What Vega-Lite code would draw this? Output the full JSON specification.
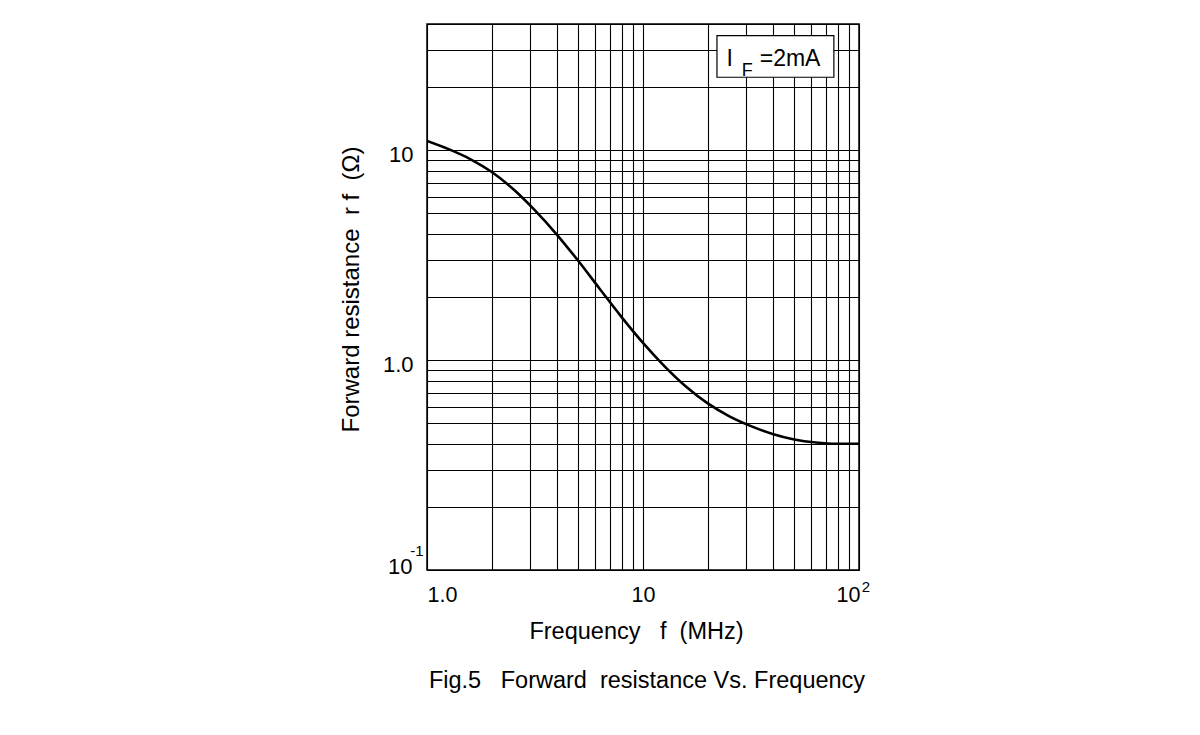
{
  "$schema": "https://vega.github.io/schema/vega-lite/v6.json",
  "width": 432,
  "height": 546,
  "autosize": {"type": "none"},
  "padding": {"left": 427, "top": 24, "right": 341, "bottom": 165},
  "background": "white",
  "config": {
    "view": {"stroke": "black", "strokeWidth": 1.5},
    "font": "Liberation Sans"
  },
  "title": {
    "text": "Fig.5\u00a0\u00a0 Forward\u00a0 resistance Vs. Frequency",
    "orient": "bottom",
    "anchor": "middle",
    "offset": 26,
    "dx": 4,
    "font": "Liberation Sans",
    "fontSize": 23.5,
    "fontWeight": "normal",
    "color": "black"
  },
  "datasets": {
    "curve": [
      {"f": 1.0, "r": 11.09},
      {"f": 1.259, "r": 10.13},
      {"f": 1.585, "r": 9.09},
      {"f": 1.995, "r": 7.88},
      {"f": 2.512, "r": 6.52},
      {"f": 3.162, "r": 5.17},
      {"f": 3.981, "r": 3.98},
      {"f": 5.012, "r": 2.975},
      {"f": 6.31, "r": 2.185},
      {"f": 7.943, "r": 1.609},
      {"f": 10, "r": 1.209},
      {"f": 12.59, "r": 0.935},
      {"f": 15.85, "r": 0.747},
      {"f": 19.95, "r": 0.622},
      {"f": 25.12, "r": 0.54},
      {"f": 31.62, "r": 0.485},
      {"f": 39.81, "r": 0.445},
      {"f": 50.12, "r": 0.419},
      {"f": 63.1, "r": 0.405},
      {"f": 79.43, "r": 0.3995},
      {"f": 100, "r": 0.4}
    ],
    "box": [
      {"f": 22, "f2": 76.5, "r": 22.3, "r2": 35.2}
    ],
    "notes": [
      {"f": 25.2, "r": 27.1, "label": "I", "kind": "main"},
      {"f": 30.4, "r": 24.0, "label": "F", "kind": "sub"},
      {"f": 34.7, "r": 27.1, "label": "=2mA", "kind": "rest"}
    ],
    "exponents": [
      {"f": 1, "r": 0.1, "label": "-1", "axis": "y"},
      {"f": 100, "r": 0.1, "label": "2", "axis": "x"}
    ]
  },
  "layer": [
    {
      "data": {"name": "curve"},
      "mark": {"type": "line", "interpolate": "monotone", "color": "black", "strokeWidth": 2.6, "clip": true},
      "encoding": {
        "x": {
          "field": "f",
          "type": "quantitative",
          "scale": {"type": "log", "domain": [1, 100], "nice": false},
          "axis": {
            "title": "Frequency\u00a0\u00a0 f\u00a0 (MHz)",
            "titleFont": "Liberation Sans",
            "titleFontSize": 23.5,
            "titleFontWeight": "normal",
            "titleColor": "black",
            "titleX": 209,
            "titleY": 68,
            "titleBaseline": "alphabetic",
            "titleAlign": "center",
            "values": [1, 2, 3, 4, 5, 6, 7, 8, 9, 10, 20, 30, 40, 50, 60, 70, 80, 90, 100],
            "labelExpr": "datum.value == 1 ? '1.0' : datum.value == 10 ? '10' : datum.value == 100 ? '10' : ''",
            "labelFont": "Liberation Sans",
            "labelFontSize": 21.5,
            "labelColor": "black",
            "labelPadding": 14,
            "labelFlush": false,
            "labelOverlap": false,
            "labelAlign": {"condition": {"test": "datum.value == 1", "value": "left"}, "value": "center"},
            "labelOffset": {"condition": {"test": "datum.value == 100", "value": -11}, "value": 0},
            "ticks": false,
            "domain": false,
            "grid": true,
            "gridColor": "black",
            "gridWidth": 1.1,
            "gridOpacity": 1
          }
        },
        "y": {
          "field": "r",
          "type": "quantitative",
          "scale": {"type": "log", "domain": [0.1, 40], "nice": false},
          "axis": {
            "title": "Forward resistance\u00a0 r f\u00a0 (Ω)",
            "titleFont": "Liberation Sans",
            "titleFontSize": 24,
            "titleFontWeight": "normal",
            "titleColor": "black",
            "titleX": -69,
            "titleY": 265,
            "titleAngle": -90,
            "titleBaseline": "alphabetic",
            "titleAlign": "center",
            "values": [0.1, 0.2, 0.3, 0.4, 0.5, 0.6, 0.7, 0.8, 0.9, 1, 2, 3, 4, 5, 6, 7, 8, 9, 10, 20, 30, 40],
            "labelExpr": "datum.value == 0.1 ? '10' : datum.value == 1 ? '1.0' : datum.value == 10 ? '10' : ''",
            "labelFont": "Liberation Sans",
            "labelFontSize": 22,
            "labelColor": "black",
            "labelPadding": {"condition": {"test": "datum.value == 0.1", "value": 15}, "value": 14},
            "labelOverlap": false,
            "labelFlush": false,
            "labelBaseline": "middle",
            "labelOffset": {"condition": {"test": "datum.value == 0.1", "value": -4}, "value": 4.5},
            "ticks": false,
            "domain": false,
            "grid": true,
            "gridColor": "black",
            "gridWidth": 1.1,
            "gridOpacity": 1
          }
        }
      }
    },
    {
      "data": {"name": "box"},
      "mark": {"type": "rect", "fill": "white", "stroke": "black", "strokeWidth": 1.2},
      "encoding": {
        "x": {"field": "f", "type": "quantitative"},
        "x2": {"field": "f2"},
        "y": {"field": "r", "type": "quantitative"},
        "y2": {"field": "r2"}
      }
    },
    {
      "data": {"name": "notes"},
      "transform": [{"filter": "datum.kind == 'main'"}],
      "mark": {"type": "text", "font": "Liberation Sans", "fontSize": 23, "color": "black", "baseline": "middle", "align": "center"},
      "encoding": {
        "x": {"field": "f", "type": "quantitative"},
        "y": {"field": "r", "type": "quantitative"},
        "text": {"field": "label"}
      }
    },
    {
      "data": {"name": "notes"},
      "transform": [{"filter": "datum.kind == 'sub'"}],
      "mark": {"type": "text", "font": "Liberation Sans", "fontSize": 18, "color": "black", "baseline": "middle", "align": "center"},
      "encoding": {
        "x": {"field": "f", "type": "quantitative"},
        "y": {"field": "r", "type": "quantitative"},
        "text": {"field": "label"}
      }
    },
    {
      "data": {"name": "notes"},
      "transform": [{"filter": "datum.kind == 'rest'"}],
      "mark": {"type": "text", "font": "Liberation Sans", "fontSize": 23, "color": "black", "baseline": "middle", "align": "left"},
      "encoding": {
        "x": {"field": "f", "type": "quantitative"},
        "y": {"field": "r", "type": "quantitative"},
        "text": {"field": "label"}
      }
    },
    {
      "data": {"name": "exponents"},
      "transform": [{"filter": "datum.axis == 'y'"}],
      "mark": {"type": "text", "font": "Liberation Sans", "fontSize": 15, "color": "black", "baseline": "middle", "align": "center", "dx": -10, "dy": -19},
      "encoding": {
        "x": {"field": "f", "type": "quantitative"},
        "y": {"field": "r", "type": "quantitative"},
        "text": {"field": "label"}
      }
    },
    {
      "data": {"name": "exponents"},
      "transform": [{"filter": "datum.axis == 'x'"}],
      "mark": {"type": "text", "font": "Liberation Sans", "fontSize": 15, "color": "black", "baseline": "middle", "align": "center", "dx": 7, "dy": 17},
      "encoding": {
        "x": {"field": "f", "type": "quantitative"},
        "y": {"field": "r", "type": "quantitative"},
        "text": {"field": "label"}
      }
    }
  ]
}
